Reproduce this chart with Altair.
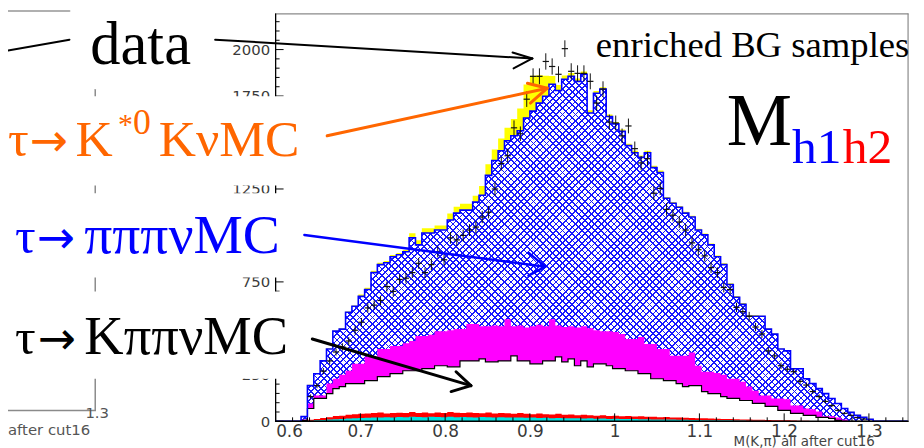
import altair as alt
import pandas as pd

# ---------------- binning of M(K,pi) ----------------
X_MIN, X_MAX = 0.6, 1.3462
Y_MAX = 2192
BIN_LO, BIN_W, N_BINS = 0.6, 0.0075, 100
FIRST_MC = 4      # first non-empty MC bin
FIRST_DATA = 5    # first data bin

# cumulative top of the tau->pipipi nu MC (blue hatched)
top_pipipi = [25, 192, 256, 325, 389, 485, 496, 587, 619, 672, 709, 800, 843, 853, 885, 896, 912, 987, 949, 1013,
              1013, 1029, 1029, 1083, 1120, 1136, 1136, 1179, 1216, 1323, 1403, 1456, 1509, 1536, 1563, 1632, 1669, 1712, 1749, 1813,
              1780, 1840, 1856, 1829, 1867, 1659, 1765, 1787, 1640, 1600, 1560, 1483, 1445, 1420, 1445, 1365, 1339, 1200, 1173, 1152,
              1120, 1099, 1029, 1003, 949, 885, 843, 736, 667, 629, 565, 565, 565, 496, 469, 389, 379, 283, 283, 229,
              203, 176, 149, 123, 96, 69, 48, 32, 21, 11]
# tau->K*0 K nu MC contribution (yellow, stacked on top)
k0k = [0, 4, 4, 4, 4, 4, 4, 4, 4, 10, 10, 10, 10, 10, 10, 10, 10, 25, 25, 25,
       25, 25, 25, 35, 35, 35, 35, 35, 50, 60, 60, 65, 70, 90, 120, 180, 190, 150, 110, 45,
       30, 20, 18, 15, 15, 15, 12, 10, 10, 10, 10, 10, 10, 10, 10, 10, 10, 7, 7, 7,
       7, 7, 7, 7, 7, 7, 7, 7, 7, 7, 7, 7, 3, 3, 3, 3, 3, 3, 3, 3,
       3, 3, 3, 3, 3, 3, 3, 3, 3, 3]
# cumulative top of magenta component
top_magenta = [10, 96, 139, 139, 203, 229, 250, 272, 309, 309, 347, 347, 389, 389, 405, 405, 420, 432, 459, 459,
               465, 485, 485, 490, 496, 496, 523, 523, 512, 512, 515, 512, 549, 512, 515, 505, 512, 520, 512, 549,
               515, 508, 512, 505, 512, 500, 490, 485, 485, 480, 470, 443, 443, 453, 416, 416, 389, 389, 352, 352,
               352, 370, 299, 267, 267, 260, 251, 229, 229, 213, 187, 165, 139, 139, 123, 123, 118, 85, 85, 69,
               65, 53, 27, 27, 20, 10, 0, 0, 0, 0]
# cumulative top of tau->K pi pi nu MC (white, black outline)
top_kpipi = [5, 69, 123, 123, 149, 176, 187, 203, 203, 203, 219, 219, 240, 240, 256, 256, 272, 272, 272, 283,
             283, 299, 299, 293, 293, 325, 325, 325, 336, 320, 320, 325, 325, 352, 325, 325, 309, 309, 325, 325,
             347, 320, 336, 299, 325, 293, 309, 309, 299, 283, 283, 272, 272, 256, 256, 229, 229, 219, 219, 203,
             187, 192, 192, 160, 149, 149, 133, 123, 123, 112, 112, 96, 96, 80, 80, 59, 59, 43, 43, 32,
             32, 21, 21, 15, 5, 0, 0, 0, 0, 0]
# cumulative top of red component
top_red = [0, 8, 12, 18, 22, 28, 30, 35, 38, 40, 42, 45, 48, 42, 45, 46, 44, 50, 45, 47,
           43, 48, 45, 50, 46, 44, 48, 45, 43, 47, 42, 45, 43, 40, 44, 41, 38, 42, 38, 36,
           40, 35, 37, 33, 35, 32, 30, 32, 29, 30, 27, 28, 26, 27, 24, 25, 22, 23, 20, 21,
           19, 18, 17, 16, 15, 14, 13, 12, 11, 10, 9, 8, 8, 7, 6, 5, 5, 4, 3, 3,
           2, 2, 1, 1, 0, 0, 0, 0, 0, 0]
# top of cyan component
top_cyan = [0, 3, 5, 7, 9, 11, 13, 15, 16, 18, 19, 20, 21, 22, 21, 23, 22, 24, 23, 22,
            24, 23, 22, 24, 22, 23, 22, 21, 23, 22, 21, 22, 20, 21, 20, 19, 20, 18, 19, 17,
            18, 17, 16, 17, 15, 16, 14, 15, 13, 14, 12, 13, 12, 11, 11, 10, 10, 9, 9, 8,
            8, 7, 7, 6, 6, 5, 5, 5, 4, 4, 3, 3, 3, 2, 2, 2, 1, 1, 1, 0,
            0, 0, 0, 0, 0, 0, 0, 0, 0, 0]
# data counts per bin
data_counts = [133, 192, 270, 325, 373, 400, 432, 490, 533, 610, 625, 650, 725, 699, 763, 770, 800, 850, 800, 843,
               912, 869, 987, 976, 1000, 1029, 1045, 1099, 1125, 1250, 1387, 1429, 1579, 1547, 1733, 1856, 1856, 1936, 1909, 1867,
               2005, 1883, 1872, 1872, 1829, 1712, 1787, 1610, 1605, 1536, 1589, 1467, 1390, 1413, 1227, 1253, 1140, 1109, 1072, 1029,
               960, 923, 890, 827, 800, 720, 709, 613, 590, 565, 507, 470, 379, 352, 299, 280, 267, 215, 195, 160,
               133, 107, 85, 59, 43, 32, 20, 12]

x_major = [0.6, 0.7, 0.8, 0.9, 1.0, 1.1, 1.2, 1.3]
x_minor = [round(0.6 + 0.02 * k, 3) for k in range(38) if k % 5 != 0]
y_major = [0, 250, 500, 750, 1000, 1250, 1500, 1750, 2000]
y_labels = [0, 250, 750, 1250, 1750, 2000]   # the others sit behind the label boxes
y_minor = [50 * k for k in range(44) if k % 5 != 0]

# ---------------- layout ----------------
OX, OY = 278, 12      # plot origin on the page
W, H = 638, 411

def pad(vals, first):
    return [0] * first + list(vals) + [0] * (N_BINS - first - len(vals)) + [0]

edges = [round(BIN_LO + BIN_W * i, 5) for i in range(N_BINS + 1)]
hist = pd.DataFrame({
    'edge': edges,
    'pipipi': pad(top_pipipi, FIRST_MC),
    'mag': pad(top_magenta, FIRST_MC),
    'kpipi': pad(top_kpipi, FIRST_MC),
    'red': pad(top_red, FIRST_MC),
    'cyan': pad(top_cyan, FIRST_MC),
})
hist['k0k'] = hist['pipipi'] + pd.Series(pad(k0k, FIRST_MC))
centers = [round(BIN_LO + BIN_W * (FIRST_DATA + i + 0.5), 5) for i in range(len(data_counts))]
dpts = pd.DataFrame({'c': centers, 'n': data_counts})
one = pd.DataFrame({'k': [0]})

xs = alt.Scale(domain=[X_MIN, X_MAX], nice=False, zero=False)
ys = alt.Scale(domain=[0, Y_MAX], nice=False)
xaxis = alt.Axis(values=x_major, labelExpr="datum.value == 1 ? '1' : format(datum.value, '.1f')",
                 ticks=False, domain=False, grid=False, labelFont='DejaVu Sans', labelFontSize=17,
                 labelColor='#3a3a3a', labelPadding=2, title=None)
yaxis = alt.Axis(values=y_labels, format='d', ticks=False, domain=False, grid=False,
                 labelFont='DejaVu Sans', labelFontSize=15, labelColor='#3a3a3a', labelPadding=6, title=None)


def XF(field):
    return alt.X(field, scale=xs, axis=xaxis)


def YF(field):
    return alt.Y(field, scale=ys, axis=yaxis, stack=None)


def hatch(rising):
    period, lw = 6.5, 1.8
    total = W + H
    line, gap = '#1818ff', 'rgba(255,255,255,0)'
    stops = []
    k = 0
    while k * period < total:
        a = round(k * period / total, 5)
        b = round(min((k * period + lw) / total, 1.0), 5)
        c = round(min((k + 1) * period / total, 1.0), 5)
        stops += [alt.GradientStop(offset=a, color=line), alt.GradientStop(offset=b, color=line),
                  alt.GradientStop(offset=b, color=gap), alt.GradientStop(offset=c, color=gap)]
        k += 1
    s = (W + H) * W / (W * W + H * H)
    if rising:
        return alt.LinearGradient(gradient='linear', stops=stops, x1=0, y1=1, x2=s, y2=1 - s * H / W)
    return alt.LinearGradient(gradient='linear', stops=stops, x1=0, y1=0, x2=s, y2=s * H / W)


def seg(x1, y1, x2, y2, color, w):
    return alt.Chart(one).mark_rule(color=color, strokeWidth=w, strokeCap='round').encode(
        x=alt.value(x1 - OX), y=alt.value(y1 - OY), x2=alt.value(x2 - OX), y2=alt.value(y2 - OY))


def txt(s, x, y, size, color, font='Liberation Serif', align='left'):
    return alt.Chart(one).mark_text(text=s, font=font, fontSize=size, color=color, align=align,
                                    baseline='alphabetic').encode(x=alt.value(x - OX), y=alt.value(y - OY))


def box(x1, y1, x2, y2):
    return alt.Chart(one).mark_rect(color='white').encode(
        x=alt.value(x1 - OX), x2=alt.value(x2 - OX), y=alt.value(y1 - OY), y2=alt.value(y2 - OY))


def arrow(x1, y1, x2, y2, ax1, ay1, ax2, ay2, color, w):
    return [seg(x1, y1, x2, y2, color, w), seg(ax1, ay1, x2, y2, color, w), seg(ax2, ay2, x2, y2, color, w)]


def label(parts, baseline, color):
    out = []
    for s, x, size, font, dy in parts:
        out.append(txt(s, x, baseline + dy, size, color, font=font))
    return out


base = alt.Chart(hist)

layers = [
    alt.Chart(one).mark_rect(fill=hatch(True), clip=True).encode(
        x=alt.value(0), x2=alt.value(W), y=alt.value(0), y2=alt.value(H)),
    alt.Chart(one).mark_rect(fill=hatch(False), clip=True).encode(
        x=alt.value(0), x2=alt.value(W), y=alt.value(0), y2=alt.value(H)),
    base.mark_area(interpolate='step-after', color='white', clip=True).encode(
        x=XF('edge:Q'), y=YF('pipipi:Q'), y2=alt.value(0)),
    base.mark_area(interpolate='step-after', color='#ffff00', clip=True).encode(
        x=XF('edge:Q'), y=YF('pipipi:Q'), y2='k0k:Q'),
    base.mark_area(interpolate='step-after', color='#ff00ff', clip=True).encode(
        x=XF('edge:Q'), y=YF('mag:Q')),
    base.mark_area(interpolate='step-after', color='white', clip=True).encode(
        x=XF('edge:Q'), y=YF('kpipi:Q')),
    base.mark_area(interpolate='step-after', color='#ff0000', clip=True).encode(
        x=XF('edge:Q'), y=YF('red:Q')),
    base.mark_area(interpolate='step-after', color='#00e0e0', clip=True).encode(
        x=XF('edge:Q'), y=YF('cyan:Q')),
    base.mark_line(interpolate='step-after', color='black', strokeWidth=1.2, clip=True).encode(
        x=XF('edge:Q'), y=YF('kpipi:Q')),
    base.mark_line(interpolate='step-after', color='#0000ff', strokeWidth=1.6, clip=True).encode(
        x=XF('edge:Q'), y=YF('pipipi:Q')),
    # data points with errors
    alt.Chart(dpts).transform_calculate(lo='datum.n - sqrt(datum.n)', hi='datum.n + sqrt(datum.n)')
    .mark_rule(color='#111111', strokeWidth=1).encode(x=XF('c:Q'), y=YF('lo:Q'), y2='hi:Q'),
    alt.Chart(dpts).mark_point(shape='M-1,0L1,0', size=40, color='#111111', strokeWidth=1.2,
                               filled=False, opacity=1).encode(x=XF('c:Q'), y=YF('n:Q')),
    # inner ticks
    alt.Chart(pd.DataFrame({'v': x_major})).mark_rule(color='black', strokeWidth=1).encode(
        x=XF('v:Q'), y=alt.value(H), y2=alt.value(H - 8)),
    alt.Chart(pd.DataFrame({'v': x_minor})).mark_rule(color='black', strokeWidth=1).encode(
        x=XF('v:Q'), y=alt.value(H), y2=alt.value(H - 4)),
    alt.Chart(pd.DataFrame({'v': y_major})).mark_rule(color='black', strokeWidth=1).encode(
        y=YF('v:Q'), x=alt.value(0), x2=alt.value(8)),
    alt.Chart(pd.DataFrame({'v': y_minor})).mark_rule(color='black', strokeWidth=1).encode(
        y=YF('v:Q'), x=alt.value(0), x2=alt.value(4)),
    # frame
    seg(278, 12, 916, 12, '#8a8a8a', 1.2),
    seg(916, 12, 916, 423, '#8a8a8a', 1.2),
    seg(278, 12, 278, 423, 'black', 1.3),
    seg(278, 423, 916, 423, 'black', 1.5),
    # fragments of the neighbouring plot
    seg(8, 9, 70, 9, '#b0b0b0', 2),
    seg(96, 88, 96, 412, '#8a8a8a', 1.5),
    seg(8, 412, 96, 412, '#8a8a8a', 1.5),
    txt('after cut16', 8, 437, 15, '#555555', font='DejaVu Sans'),
    txt('1.3', 98, 420, 15, '#555555', font='DejaVu Sans', align='center'),
    # label boxes
    box(75, 10, 218, 88),
    box(0, 95, 310, 185),
    box(0, 193, 292, 278),
    box(0, 292, 298, 380),
    # texts
    txt('data', 91, 63, 61, 'black'),
    txt('enriched BG samples', 601, 55, 37, 'black'),
    txt('M', 733, 144, 74, 'black'),
    txt('h1', 799, 162, 50, '#0000ff'),
    txt('h2', 850, 162, 50, '#ff0000'),
    txt('M(K,π) all after cut16', 740, 448, 13.5, '#444444', font='DejaVu Sans'),
    seg(8, 49, 70, 38, 'black', 2),
]
SERIF, SANS = 'Liberation Serif', 'DejaVu Sans'
layers += label([('τ', 8, 52, SERIF, 0), ('→', 30, 46, SANS, 0), ('K', 76, 52, SERIF, 0),
                 ('*', 119, 30, SERIF, -22), ('0', 134, 36, SERIF, -22), ('KνMC', 160, 52, SERIF, 0)],
                155, '#ff6600')
layers += label([('τ', 15, 52, SERIF, 0), ('→', 37, 46, SANS, 0), ('πππνMC', 85, 56, SERIF, 0)],
                253, '#0000ff')
layers += label([('τ', 15, 52, SERIF, 0), ('→', 38, 46, SANS, 0), ('KππνMC', 85, 55, SERIF, 0)],
                355, 'black')
layers += arrow(217, 38, 537, 57, 517, 51, 518, 67, 'black', 2)
layers += arrow(330, 135, 552, 87, 532, 82, 535, 102, '#ff6600', 3)
layers += arrow(307, 235, 550, 267, 533, 253, 533, 276, '#0000ff', 2.5)
layers += arrow(315, 340, 475, 387, 460, 373, 455, 393, 'black', 3)

chart = alt.layer(*layers).properties(
    width=W, height=H,
    autosize=alt.AutoSizeParams(type='none'),
    padding={'left': 270, 'top': 4, 'right': 8, 'bottom': 25},
).configure(background='white').configure_view(stroke=None)

chart.save("out.html", embed_options={"renderer": "svg", "actions": False})
